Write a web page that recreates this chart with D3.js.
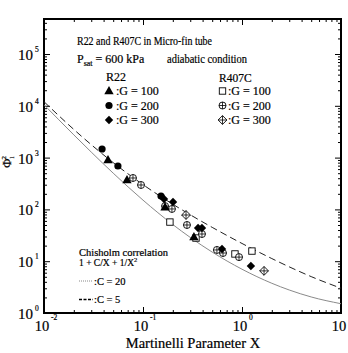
<!DOCTYPE html>
<html>
<head>
<meta charset="utf-8">
<script src="https://cdn.jsdelivr.net/npm/d3@7"></script>
<style>
	body { margin: 0; background: #fff; }
	svg text { font-family: "Liberation Serif", "Times New Roman", serif; fill: #000; stroke: #000; stroke-width: 0.2; }
</style>
</head>
<body>
<svg id="chart" width="348" height="353"></svg>
<script>
"use strict";

// measured points, [X, phi_l^2]
var r22G100 = [[0.0443, 899], [0.0689, 370], [0.167, 110], [0.327, 29.3]];
var r22G200 = [[0.0386, 1466], [0.0558, 689], [0.152, 181]];
var r22G300 = [[0.163, 159], [0.201, 139], [0.360, 43.8], [0.394, 43.8], [0.628, 17.2], [1.23, 8.1]];
var r407G100 = [[0.187, 57], [0.343, 28], [0.849, 13.8], [1.26, 15.7]];
var r407G200 = [[0.0792, 404], [0.0955, 296], [0.167, 116], [0.196, 102], [0.278, 50], [0.394, 33.5], [0.558, 16.5], [0.643, 14.4], [0.933, 12]];
var r407G300 = [[0.272, 78], [1.67, 6.5]];

// Chisholm correlation read at these X
var curveX = [0.01, 0.02, 0.03, 0.05, 0.1, 0.2, 0.3, 0.5, 1, 2, 3, 5, 10];
var chisholmC20 = [12001, 3501, 1779, 801, 301, 126, 78.8, 45, 22, 11.25, 7.78, 5.04, 3.01];
var chisholmC5 = [10501, 2751, 1279, 501, 151, 51, 28.8, 15, 7, 3.75, 2.78, 2.04, 1.51];

var xTickLabels = [[0.01, "-2"], [0.1, "-1"], [1, "0"], [10, ""]];
var yTickLabels = [[1, "0"], [10, "1"], [100, "2"], [1000, "3"], [1e4, "4"], [1e5, "5"]];

(function() {
	var pLeft = 44, pRight = 341, pTop = 19, pBottom = 313;

	var svg = d3.select("#chart");

	var x = d3.scaleLog().domain([0.01, 10]).range([pLeft, pRight]);
	var y = d3.scaleLog().domain([1, Math.pow(10, 5.676)]).range([pBottom, pTop]);

	function isMajor(v) {
		var l = Math.log10(v);
		return Math.abs(l - Math.round(l)) < 1e-6;
	}

	// ticks, all pointing into the frame
	function styleTicks(g, sign, horiz) {
		g.select(".domain").remove();
		g.selectAll(".tick line")
			.attr("stroke", "#000")
			.attr("stroke-width", 1)
			.each(function(d) {
				var len = isMajor(d) ? 6 : 3;
				if (horiz) d3.select(this).attr("y2", sign * len);
				else d3.select(this).attr("x2", sign * len);
			});
		g.selectAll(".tick text").remove();
	}

	svg.append("g").attr("transform", "translate(0," + pBottom + ")")
		.call(d3.axisBottom(x).ticks(10).tickSize(6))
		.call(styleTicks, -1, true);
	svg.append("g").attr("transform", "translate(0," + pTop + ")")
		.call(d3.axisTop(x).ticks(10).tickSize(6))
		.call(styleTicks, 1, true);
	svg.append("g").attr("transform", "translate(" + pLeft + ",0)")
		.call(d3.axisLeft(y).ticks(10).tickSize(6))
		.call(styleTicks, 1, false);
	svg.append("g").attr("transform", "translate(" + pRight + ",0)")
		.call(d3.axisRight(y).ticks(10).tickSize(6))
		.call(styleTicks, -1, false);

	svg.append("rect")
		.attr("x", pLeft).attr("y", pTop)
		.attr("width", pRight - pLeft).attr("height", pBottom - pTop)
		.attr("fill", "none").attr("stroke", "#000").attr("stroke-width", 2);

	// tick labels
	xTickLabels.forEach(function(t) {
		var tx = x(t[0]) - 2;
		svg.append("text").attr("x", tx).attr("y", 331)
			.attr("text-anchor", "middle").attr("font-size", 14.5).text("10");
		if (t[1]) {
			svg.append("text").attr("x", tx + 9).attr("y", 319.5)
				.attr("font-size", 7.5).text(t[1]);
		}
	});
	yTickLabels.forEach(function(t) {
		var ty = y(t[0]);
		svg.append("text").attr("x", 33).attr("y", ty + 6)
			.attr("text-anchor", "end").attr("font-size", 15).text("10");
		svg.append("text").attr("x", 35).attr("y", ty - 2)
			.attr("font-size", 7.5).text(t[1]);
	});

	// axis titles
	svg.append("text").attr("x", 193).attr("y", 347.5)
		.attr("text-anchor", "middle").attr("font-size", 14.5)
		.text("Martinelli Parameter X");

	var yt = svg.append("text")
		.attr("transform", "translate(11,162) rotate(-90)")
		.attr("text-anchor", "middle").attr("font-size", 13);
	yt.append("tspan").text("Φ");
	yt.append("tspan").attr("font-size", 7).attr("dy", 3).text("l");
	yt.append("tspan").attr("font-size", 7).attr("dx", -3).attr("dy", -8).text("2");

	// correlation curves
	svg.append("clipPath").attr("id", "plotClip")
		.append("rect").attr("x", pLeft).attr("y", pTop)
		.attr("width", pRight - pLeft).attr("height", pBottom - pTop);

	var line = d3.line()
		.x(function(d) { return x(d[0]); })
		.y(function(d) { return y(d[1]); })
		.curve(d3.curveMonotoneX);

	svg.append("path")
		.datum(d3.zip(curveX, chisholmC20))
		.attr("clip-path", "url(#plotClip)")
		.attr("d", line)
		.attr("fill", "none").attr("stroke", "#222").attr("stroke-width", 1)
		.attr("stroke-dasharray", "7,4");

	svg.append("path")
		.datum(d3.zip(curveX, chisholmC5))
		.attr("clip-path", "url(#plotClip)")
		.attr("d", line)
		.attr("fill", "none").attr("stroke", "#8a8a8a").attr("stroke-width", 1);

	// markers
	function diamond(cx, cy, s) {
		return "M" + cx + "," + (cy - s) + "L" + (cx + s) + "," + cy + "L" + cx + "," + (cy + s) + "L" + (cx - s) + "," + cy + "Z";
	}
	function cross(cx, cy, s) {
		return "M" + (cx - s) + "," + cy + "H" + (cx + s) + "M" + cx + "," + (cy - s) + "V" + (cy + s);
	}
	function marker(g, type, cx, cy) {
		if (type === "tri") {
			g.append("path").attr("transform", "translate(" + cx + "," + (cy + 0.5) + ")")
				.attr("d", d3.symbol(d3.symbolTriangle, 38)()).attr("fill", "#000");
		} else if (type === "circ") {
			g.append("circle").attr("cx", cx).attr("cy", cy).attr("r", 3.6).attr("fill", "#000");
		} else if (type === "dia") {
			g.append("path").attr("d", diamond(cx, cy, 4.2)).attr("fill", "#000");
		} else if (type === "sq") {
			g.append("rect").attr("x", cx - 3.2).attr("y", cy - 3.2).attr("width", 6.4).attr("height", 6.4)
				.attr("fill", "#fff").attr("stroke", "#000").attr("stroke-width", 0.9);
		} else if (type === "ocirc") {
			g.append("circle").attr("cx", cx).attr("cy", cy).attr("r", 3.5)
				.attr("fill", "#fff").attr("stroke", "#000").attr("stroke-width", 0.9);
			g.append("path").attr("d", cross(cx, cy, 3.5))
				.attr("stroke", "#000").attr("stroke-width", 0.8);
		} else if (type === "odia") {
			g.append("path").attr("d", diamond(cx, cy, 4.4))
				.attr("fill", "#fff").attr("stroke", "#000").attr("stroke-width", 0.9);
			g.append("path").attr("d", cross(cx, cy, 4.4))
				.attr("stroke", "#000").attr("stroke-width", 0.8);
		}
	}

	var series = [
		{data: r407G300, type: "odia"},
		{data: r407G100, type: "sq"},
		{data: r407G200, type: "ocirc"},
		{data: r22G100, type: "tri"},
		{data: r22G200, type: "circ"},
		{data: r22G300, type: "dia"}
	];
	var pts = svg.append("g");
	series.forEach(function(s) {
		s.data.forEach(function(d) { marker(pts, s.type, x(d[0]), y(d[1])); });
	});

	// legend texts
	var leg = svg.append("g");
	leg.append("text").attr("x", 77).attr("y", 45).attr("font-size", 12)
		.attr("textLength", 135).attr("lengthAdjust", "spacingAndGlyphs")
		.text("R22 and R407C in Micro-fin tube");
	var ps = leg.append("text").attr("x", 77).attr("y", 63).attr("font-size", 12);
	ps.append("tspan").text("P");
	ps.append("tspan").attr("font-size", 8).attr("dy", 3).text("sat");
	ps.append("tspan").attr("dy", -3).text(" = 600 kPa");
	leg.append("text").attr("x", 167).attr("y", 63).attr("font-size", 12)
		.attr("textLength", 80).attr("lengthAdjust", "spacingAndGlyphs")
		.text("adiabatic condition");

	leg.append("text").attr("x", 106).attr("y", 81).attr("font-size", 12).text("R22");
	leg.append("text").attr("x", 219).attr("y", 81.5).attr("font-size", 11.5).text("R407C");

	var legRows = [
		["tri", "sq", ":G = 100"],
		["circ", "ocirc", ":G = 200"],
		["dia", "odia", ":G = 300"]
	];
	legRows.forEach(function(r, i) {
		var by = 95 + i * 14.5;
		marker(leg, r[0], 109, by - 4);
		leg.append("text").attr("x", 116).attr("y", by).attr("font-size", 12).text(r[2]);
		marker(leg, r[1], 222.5, by - 4);
		leg.append("text").attr("x", 228).attr("y", by).attr("font-size", 12).text(r[2]);
	});

	leg.append("text").attr("x", 79).attr("y", 255.5).attr("font-size", 10)
		.attr("textLength", 89).attr("lengthAdjust", "spacingAndGlyphs")
		.text("Chisholm correlation");
	var fo = leg.append("text").attr("x", 79).attr("y", 266).attr("font-size", 9.5);
	fo.append("tspan").text("1 + C/X + 1/X");
	fo.append("tspan").attr("font-size", 6.5).attr("dy", -4).text("2");

	leg.append("line").attr("x1", 79).attr("x2", 93).attr("y1", 281).attr("y2", 281)
		.attr("stroke", "#888").attr("stroke-width", 1).attr("stroke-dasharray", "1,1");
	leg.append("text").attr("x", 94).attr("y", 284.5).attr("font-size", 10.5).text(":C = 20");
	leg.append("line").attr("x1", 79).attr("x2", 93).attr("y1", 299.5).attr("y2", 299.5)
		.attr("stroke", "#000").attr("stroke-width", 1.5).attr("stroke-dasharray", "3,1.5");
	leg.append("text").attr("x", 94).attr("y", 303).attr("font-size", 10.5).text(":C = 5");
}());
</script>
</body>
</html>
